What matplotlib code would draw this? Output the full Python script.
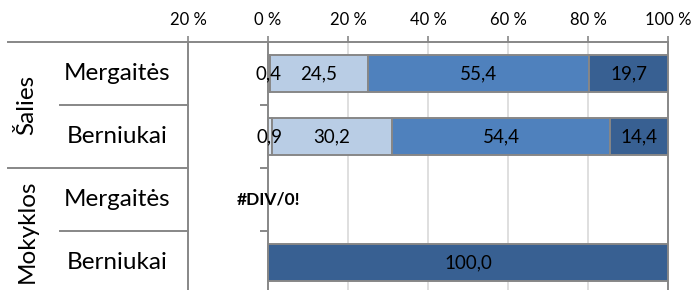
import numpy as np
import matplotlib
matplotlib.use("Agg")
import matplotlib.pyplot as plt
from matplotlib.transforms import blended_transform_factory

plt.rcParams['font.family'] = ['Lato', 'DejaVu Sans']

groups = ["Šalies", "Mokyklos"]
categories = ["Mergaitės", "Berniukai", "Mergaitės", "Berniukai"]
s1 = [0.4, 0.9, 0.0, 0.0]
s2 = [24.5, 30.2, 0.0, 0.0]
s3 = [55.4, 54.4, 0.0, 0.0]
s4 = [19.7, 14.4, 0.0, 100.0]
error_rows = [2]
error_text = "#DIV/0!"
xticks = [-20, 0, 20, 40, 60, 80, 100]

series = [s1, s2, s3, s4]
colors = ["#dbe5f1", "#b9cde5", "#4f81bd", "#386092"]
edge = "#878787"

W, H = 692, 290
fig = plt.figure(figsize=(W / 100, H / 100), dpi=100)
ax = fig.add_axes([188 / W, 1 - 294 / H, 480 / W, 252 / H])

y = np.arange(len(categories))
left = np.zeros(len(categories))
for vals, col in zip(series, colors):
    vals = np.array(vals, dtype=float)
    mask = vals > 0
    ax.barh(y[mask], vals[mask], left=left[mask], height=0.59,
            color=col, edgecolor=edge, linewidth=1.4, zorder=3)
    for yi, l, v in zip(y[mask], left[mask], vals[mask]):
        ax.text(l + v / 2, yi, f"{v:.1f}".replace(".", ","), ha="center",
                va="center", fontsize=13.5, color="black", zorder=4)
    left = left + vals

for r in error_rows:
    ax.text(0, r, error_text, ha="center", va="center", fontsize=12.5,
            fontweight="bold", color="black", zorder=5)

ax.set_xlim(-20, 100)
ax.set_ylim(len(categories) - 0.5, -0.5)
ax.set_xticks(xticks)
ax.set_xticklabels([f"{abs(v):.0f} %" for v in xticks])
ax.xaxis.tick_top()
ax.tick_params(axis="x", which="both", length=4, width=1.2, color=edge,
               labelsize=12, pad=6, top=True, bottom=False)
ax.set_yticks([])

for v in xticks:
    if 0 < v < 100:
        ax.axvline(v, color="#d9d9d9", linewidth=1.2, zorder=1)
ax.axvline(0, color=edge, linewidth=1.4, zorder=2)

for s in ["top", "left", "right"]:
    ax.spines[s].set_color(edge)
    ax.spines[s].set_linewidth(1.4)
ax.spines["bottom"].set_visible(False)

# small ticks on category axis at 0
bounds = np.arange(len(categories) - 1) + 0.5
ax.hlines(bounds, -2, 0, color=edge, linewidth=1.4, zorder=2)

# multi-level category labels
tr = blended_transform_factory(fig.transFigure, ax.transData)
for i, b in enumerate([-0.5] + list(bounds)):
    x0 = 8 / W if i % 2 == 0 else 60 / W
    fig.add_artist(plt.Line2D([x0, 188 / W], [b, b], transform=tr,
                              color=edge, linewidth=1.4))
for yi, c in zip(y, categories):
    fig.text(117 / W, yi, c, transform=tr, ha="center", va="center",
             fontsize=17.5, color="black")
for gi, g in enumerate(groups):
    fig.text(27 / W, 2 * gi + 0.5, g, transform=tr, ha="center", va="center",
             rotation=90, fontsize=17.5, color="black")

fig.savefig("out.png", dpi=100)
